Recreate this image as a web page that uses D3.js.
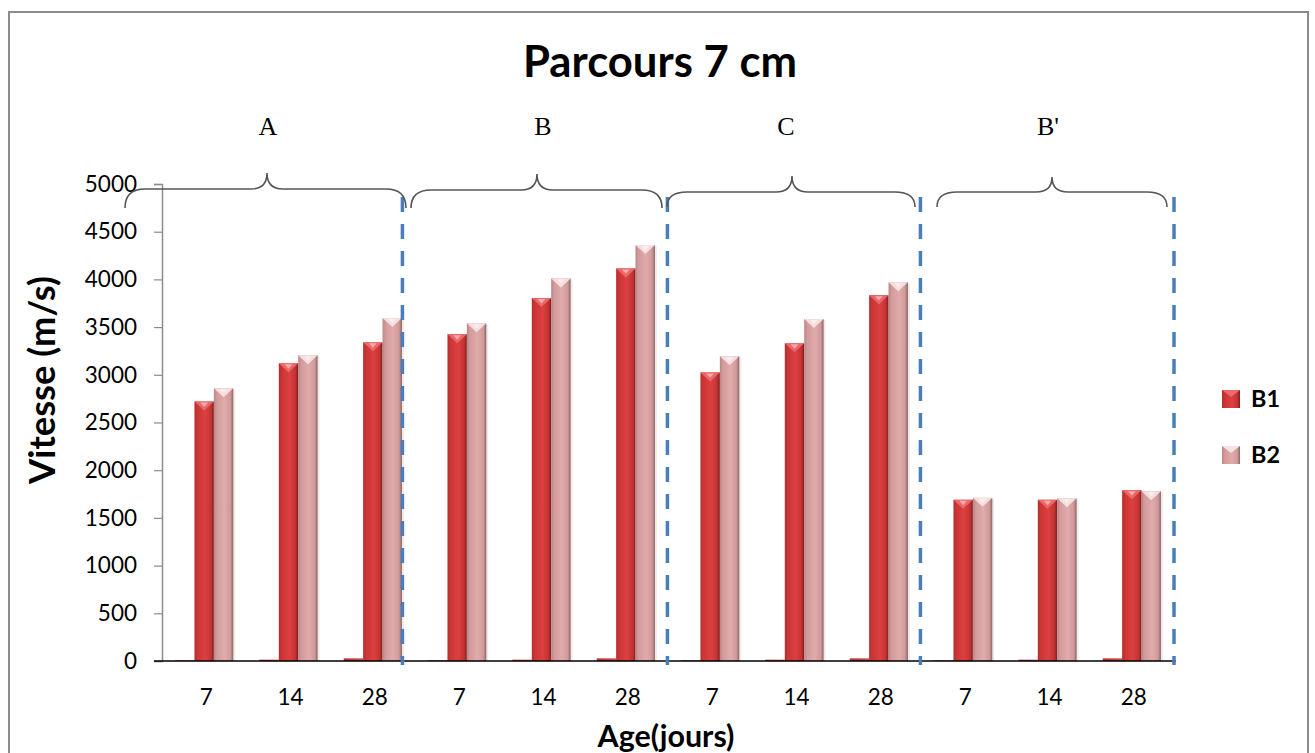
<!DOCTYPE html>
<html>
<head>
<meta charset="utf-8">
<script src="https://cdn.jsdelivr.net/npm/d3@7"></script>
<style>
  html, body { margin: 0; padding: 0; background: #fff; }
  svg { display: block; }
</style>
</head>
<body>
<svg id="chart" width="1315" height="753"></svg>
<script>
// ---------- data ----------
const categories = ["7", "14", "28", "7", "14", "28", "7", "14", "28", "7", "14", "28"];
const ageValues  = [7, 14, 28, 7, 14, 28, 7, 14, 28, 7, 14, 28];
const b1Values   = [2720, 3120, 3340, 3425, 3805, 4115, 3025, 3330, 3835, 1690, 1690, 1790];
const b2Values   = [2860, 3205, 3595, 3540, 4010, 4360, 3195, 3585, 3970, 1710, 1705, 1780];
const seriesNames = ["Age", "B1", "B2"];
const legendNames = ["B1", "B2"];
const groupLabels = ["A", "B", "C", "B'"];
const yTicks = [0, 500, 1000, 1500, 2000, 2500, 3000, 3500, 4000, 4500, 5000];
const titleText = "Parcours 7 cm";
const yTitle = "Vitesse (m/s)";
const xTitle = "Age(jours)";

// ---------- setup ----------
const svg = d3.select("#chart");
const plot = { left: 162, right: 1174, top: 184, bottom: 661 };
const sansFont = "Lato, 'Open Sans', sans-serif";

function fitText(sel, target) {
  const node = sel.node();
  const base = parseFloat(sel.attr("font-size"));
  const len = node.getComputedTextLength();
  if (len > 0) sel.attr("font-size", (base * target / len).toFixed(2));
  return sel;
}

// outer border
svg.append("rect")
  .attr("x", 9).attr("y", 12).attr("width", 1299).attr("height", 760)
  .attr("fill", "#fff").attr("stroke", "#8c8c8c").attr("stroke-width", 2);

// gradients
const defs = svg.append("defs");
function hGrad(id, stops) {
  const g = defs.append("linearGradient").attr("id", id)
    .attr("x1", "0%").attr("x2", "100%").attr("y1", "0%").attr("y2", "0%");
  stops.forEach(([o, c]) => g.append("stop").attr("offset", o).attr("stop-color", c));
}
hGrad("gB1", [["0%", "#b32c2c"], ["15%", "#cc3535"], ["55%", "#dc4040"], ["85%", "#c43333"], ["100%", "#7e1d1d"]]);
hGrad("gB2", [["0%", "#bb8585"], ["15%", "#d29a9a"], ["55%", "#e2abab"], ["85%", "#cf9a9a"], ["100%", "#8e6464"]]);
hGrad("gAge", [["0%", "#c23030"], ["100%", "#d44a4a"]]);
const fills = { Age: "url(#gAge)", B1: "url(#gB1)", B2: "url(#gB2)" };
const bevel = { Age: "#e06060", B1: "#ec6a6a", B2: "#f6e2e2" };

// scales
const x = d3.scaleBand().domain(d3.range(categories.length))
  .range([plot.left, plot.right]).paddingInner(0.31).paddingOuter(0.155);
const xs = d3.scaleBand().domain(seriesNames).range([0, x.bandwidth()]);
const y = d3.scaleLinear().domain([0, 5000]).range([plot.bottom, plot.top]);

const rows = categories.map((c, i) => ({
  i, cat: c, vals: { Age: ageValues[i], B1: b1Values[i], B2: b2Values[i] }
}));

// y axis
const yAxis = svg.append("g").attr("transform", `translate(${plot.left},0)`)
  .call(d3.axisLeft(y).tickValues(yTicks).tickSize(8).tickPadding(17).tickFormat(d3.format("d")));
yAxis.select(".domain").attr("stroke", "#8c8c8c").attr("stroke-width", 1.5);
yAxis.selectAll(".tick line").attr("stroke", "#8c8c8c").attr("stroke-width", 1.2);
yAxis.selectAll(".tick text").attr("font-family", sansFont).attr("font-size", 22.5).attr("fill", "#000");

// bars
const bars = svg.append("g");
rows.forEach(r => {
  seriesNames.forEach(s => {
    const x0 = x(r.i) + xs(s), w = xs.bandwidth();
    const y0 = y(r.vals[s]), h = plot.bottom - y0;
    bars.append("rect")
      .attr("x", x0 + 2).attr("y", y0 + 1).attr("width", w).attr("height", h)
      .attr("fill", "#000").attr("opacity", 0.08);
    bars.append("rect")
      .attr("x", x0).attr("y", y0).attr("width", w).attr("height", h)
      .attr("fill", fills[s]);
    if (h > 12) {
      const bh = Math.min(9, h / 3);
      bars.append("path")
        .attr("d", `M${x0},${y0} L${x0 + w},${y0} L${x0 + w / 2},${y0 + bh} Z`)
        .attr("fill", bevel[s]).attr("opacity", 0.95);
      bars.append("path")
        .attr("d", `M${x0 + w * 0.3},${y0 + 1} L${x0 + w * 0.7},${y0 + 1} L${x0 + w / 2},${y0 + bh * 0.6} Z`)
        .attr("fill", "#fff").attr("opacity", 0.45);
    }
  });
});

// baseline
svg.append("line")
  .attr("x1", plot.left - 8).attr("x2", plot.right + 2)
  .attr("y1", y(0)).attr("y2", y(0))
  .attr("stroke", "#000").attr("stroke-width", 1.5);

// x tick labels
svg.append("g").selectAll("text").data(rows).join("text")
  .attr("x", d => x(d.i) + x.bandwidth() / 2 + 2)
  .attr("y", 705)
  .attr("text-anchor", "middle")
  .attr("font-family", sansFont).attr("font-size", 22.5)
  .text(d => d.cat);

// dashed separators
const sepX = [x(2) + x.bandwidth() + 0.5, x(5) + x.bandwidth() + 12.5, x(8) + x.bandwidth() + 12.5, plot.right];
svg.append("g").selectAll("line").data(sepX).join("line")
  .attr("x1", d => d).attr("x2", d => d)
  .attr("y1", 197).attr("y2", y(0) + 4)
  .attr("stroke", "#4a7ebb").attr("stroke-width", 3.5)
  .attr("stroke-dasharray", "15,12");

// braces
const braces = [
  { x0: 125, x1: 406, xm: 267, top: 173, line: 189, end: 208 },
  { x0: 411, x1: 662, xm: 537, top: 174, line: 190, end: 208 },
  { x0: 667, x1: 915, xm: 792, top: 176, line: 192, end: 207 },
  { x0: 937, x1: 1167, xm: 1052, top: 177, line: 192, end: 207 }
];
function bracePath(b) {
  const r = 20, r2 = 16;
  return `M${b.x0},${b.end} Q${b.x0},${b.line} ${b.x0 + r},${b.line} L${b.xm - r2},${b.line} ` +
         `Q${b.xm},${b.line} ${b.xm},${b.top} Q${b.xm},${b.line} ${b.xm + r2},${b.line} ` +
         `L${b.x1 - r},${b.line} Q${b.x1},${b.line} ${b.x1},${b.end}`;
}
svg.append("g").selectAll("path").data(braces).join("path")
  .attr("d", bracePath).attr("fill", "none").attr("stroke", "#555").attr("stroke-width", 1.6);

// group labels
const labelX = [268, 543, 786, 1048];
svg.append("g").selectAll("text").data(groupLabels).join("text")
  .attr("x", (d, i) => labelX[i]).attr("y", 135)
  .attr("text-anchor", "middle")
  .attr("font-family", "'Liberation Serif', 'Times New Roman', serif")
  .attr("font-size", 26).text(d => d);

// title
fitText(svg.append("text")
  .attr("x", 660).attr("y", 77).attr("text-anchor", "middle")
  .attr("font-family", sansFont).attr("font-weight", "bold").attr("font-size", 38)
  .text(titleText), 274);

// y title
fitText(svg.append("text")
  .attr("transform", "translate(55,380) rotate(-90)")
  .attr("text-anchor", "middle")
  .attr("font-family", sansFont).attr("font-weight", "bold").attr("font-size", 26)
  .text(yTitle), 208);

// x title
fitText(svg.append("text")
  .attr("x", 666).attr("y", 747).attr("text-anchor", "middle")
  .attr("font-family", sansFont).attr("font-weight", "bold").attr("font-size", 24)
  .text(xTitle), 137);

// legend
const legend = svg.append("g");
legendNames.forEach((n, i) => {
  const ly = 390 + i * 56;
  legend.append("rect").attr("x", 1222).attr("y", ly).attr("width", 18).attr("height", 18)
    .attr("fill", fills[n]);
  legend.append("path")
    .attr("d", `M1222,${ly} L1240,${ly} L1231,${ly + 7} Z`).attr("fill", bevel[n]);
  fitText(legend.append("text").attr("x", 1251).attr("y", ly + 17)
    .attr("font-family", sansFont).attr("font-weight", "bold").attr("font-size", 23)
    .text(n), 29);
});
</script>
</body>
</html>
